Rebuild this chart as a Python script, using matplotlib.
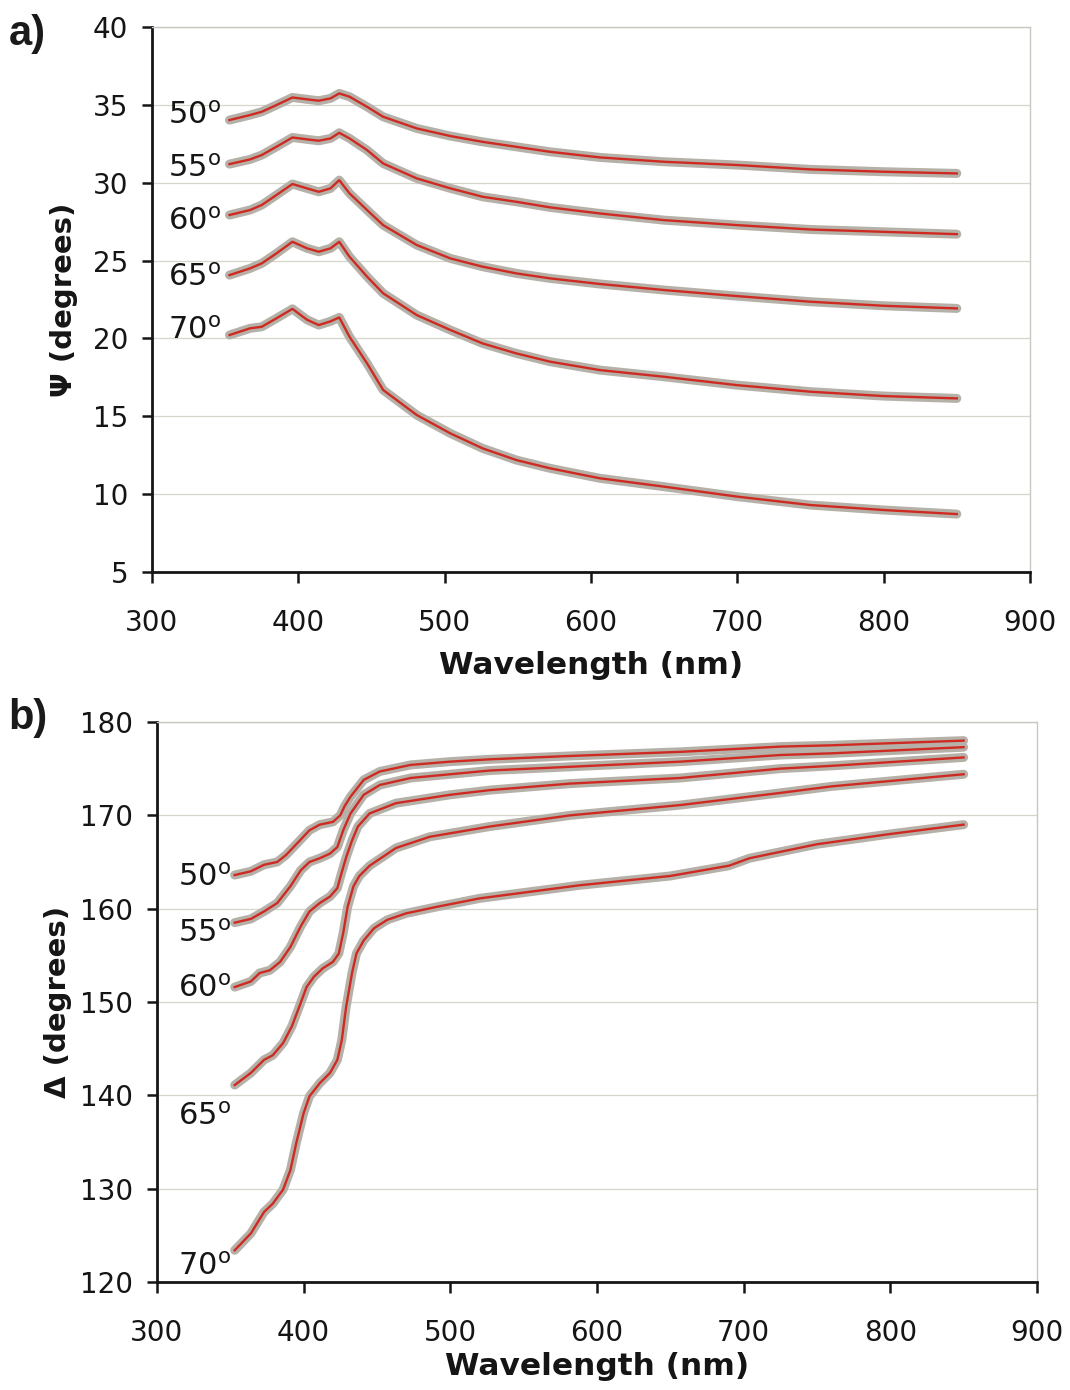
import matplotlib
matplotlib.use("Agg")
import matplotlib.pyplot as plt

# ---------------- data ----------------
angles = ["50", "55", "60", "65", "70"]

# Panel a) Psi vs wavelength (shared wavelength grid)
wl_psi = [353, 367, 375, 385, 396, 406, 414, 422, 428, 435, 447, 458, 481, 504,
          526, 549, 572, 606, 650, 700, 750, 800, 850]
psi_50 = [34.03, 34.35, 34.56, 34.99, 35.48, 35.36, 35.27, 35.42, 35.74, 35.53, 34.88, 34.24,
          33.49, 33.0, 32.63, 32.31, 31.99, 31.63, 31.35, 31.14, 30.86, 30.71, 30.6]
psi_55 = [31.2, 31.5, 31.78, 32.31, 32.91, 32.79, 32.7, 32.85, 33.21, 32.85, 32.1, 31.24,
          30.28, 29.64, 29.1, 28.78, 28.42, 28.03, 27.6, 27.28, 27.0, 26.85, 26.7]
psi_60 = [27.93, 28.25, 28.57, 29.21, 29.92, 29.64, 29.42, 29.64, 30.17, 29.32, 28.25, 27.28,
          26.0, 25.14, 24.61, 24.18, 23.86, 23.5, 23.11, 22.72, 22.36, 22.1, 21.93]
psi_65 = [24.07, 24.5, 24.82, 25.46, 26.21, 25.79, 25.57, 25.79, 26.21, 25.25, 23.97, 22.9,
          21.5, 20.54, 19.68, 19.04, 18.51, 17.97, 17.54, 17.0, 16.58, 16.3, 16.15]
psi_70 = [20.22, 20.65, 20.75, 21.29, 21.9, 21.2, 20.86, 21.1, 21.35, 20.11, 18.4, 16.69,
          15.08, 13.9, 12.94, 12.19, 11.66, 11.02, 10.48, 9.84, 9.3, 8.98, 8.72]

# Panel b) Delta vs wavelength (own wavelength list per angle)
wl_d50 = [353, 364, 373, 382, 388, 398, 404, 411, 420, 425, 428, 432, 441, 452, 473, 500,
          527, 582, 657, 725, 760, 850]
delta_50 = [163.6, 164.0, 164.7, 165.0, 165.75, 167.4, 168.4, 169.0, 169.3, 170.0, 171.0,
            172.0, 173.8, 174.7, 175.4, 175.75, 176.0, 176.36, 176.8, 177.36, 177.5, 178.0]
wl_d55 = [353, 364, 373, 382, 391, 398, 404, 411, 418, 423, 427, 432, 441, 452, 473, 500,
          527, 582, 657, 725, 760, 850]
delta_55 = [158.5, 158.9, 159.7, 160.6, 162.4, 164.1, 165.0, 165.4, 165.9, 166.6, 168.4,
            170.2, 172.2, 173.25, 174.0, 174.4, 174.8, 175.2, 175.75, 176.46, 176.64, 177.3]
wl_d60 = [353, 364, 370, 377, 384, 391, 398, 404, 411, 418, 423, 426, 429, 433, 437, 445,
          463, 500, 527, 582, 657, 725, 760, 850]
delta_60 = [151.6, 152.2, 153.1, 153.4, 154.3, 155.9, 158.1, 159.7, 160.6, 161.3, 162.2,
            163.9, 165.5, 167.3, 168.8, 170.2, 171.3, 172.2, 172.7, 173.4, 174.0, 175.0,
            175.3, 176.2]
wl_d65 = [353, 364, 373, 379, 386, 392, 398, 402, 407, 413, 420, 424, 427, 430, 434, 438,
          445, 463, 486, 527, 582, 657, 725, 760, 850]
delta_65 = [141.1, 142.4, 143.8, 144.3, 145.6, 147.4, 149.9, 151.6, 152.7, 153.6, 154.3,
            155.2, 157.4, 160.2, 162.4, 163.5, 164.6, 166.5, 167.7, 168.8, 170.0, 171.1,
            172.4, 173.1, 174.4]
wl_d70 = [353, 364, 373, 379, 386, 391, 395, 400, 404, 411, 418, 423, 426, 429, 433, 436,
          441, 448, 457, 470, 491, 520, 588, 650, 690, 704, 750, 800, 850]
delta_70 = [123.4, 125.2, 127.5, 128.4, 129.9, 132.0, 134.9, 138.1, 139.9, 141.3, 142.4,
            143.8, 145.9, 149.5, 153.1, 155.2, 156.6, 157.9, 158.8, 159.5, 160.2, 161.1,
            162.5, 163.5, 164.6, 165.4, 166.9, 168.0, 169.0]

# label anchor positions (data coords)
psi_label_x = 311
psi_label_y = [34.3, 30.95, 27.5, 23.95, 20.5]
delta_label_x = 314
delta_label_y = [163.3, 157.4, 151.5, 137.7, 121.7]

psi_series = [psi_50, psi_55, psi_60, psi_65, psi_70]
delta_wl = [wl_d50, wl_d55, wl_d60, wl_d65, wl_d70]
delta_series = [delta_50, delta_55, delta_60, delta_65, delta_70]

# ---------------- style ----------------
plt.rcParams['font.family'] = ['DejaVu Sans']
GRAY = '#b5b1a8'
RED = '#cf2a22'
GRID = '#d6d6cc'
INK = '#151515'

fig = plt.figure(figsize=(10.7, 13.9), dpi=100)
ax1 = fig.add_axes([0.142, 0.5885, 0.8206, 0.392])
ax2 = fig.add_axes([0.1467, 0.0777, 0.8224, 0.4029])


def style(ax, yticks, ylim):
    ax.set_xlim(300, 900)
    ax.set_ylim(*ylim)
    ax.set_xticks(range(300, 901, 100))
    ax.set_yticks(yticks)
    ax.yaxis.grid(True, color=GRID, lw=0.9)
    ax.set_axisbelow(True)
    for s in ['top', 'right']:
        ax.spines[s].set_color('#c8c8c0')
        ax.spines[s].set_linewidth(1.0)
    for s in ['left', 'bottom']:
        ax.spines[s].set_color(INK)
        ax.spines[s].set_linewidth(2.0)
    ax.tick_params(axis='x', direction='out', length=8, width=1.8, pad=19,
                   labelsize=20, colors=INK)
    ax.tick_params(axis='y', direction='out', length=7, width=1.8, pad=10,
                   labelsize=20, colors=INK)
    ax.tick_params(top=False, right=False)


style(ax1, range(5, 41, 5), (5, 40))
style(ax2, range(120, 181, 10), (120, 180))

for ys in psi_series:
    ax1.plot(wl_psi, ys, color=GRAY, lw=6.5, solid_capstyle='round', zorder=2)
    ax1.plot(wl_psi, ys, color=RED, lw=1.7, zorder=3)
for xs, ys in zip(delta_wl, delta_series):
    ax2.plot(xs, ys, color=GRAY, lw=6.5, solid_capstyle='round', zorder=2)
    ax2.plot(xs, ys, color=RED, lw=1.7, zorder=3)

for a, y in zip(angles, psi_label_y):
    ax1.text(psi_label_x, y, a + r'$^{\mathrm{o}}$', fontsize=22, ha='left',
             va='center', color=INK, zorder=4)
for a, y in zip(angles, delta_label_y):
    ax2.text(delta_label_x, y, a + r'$^{\mathrm{o}}$', fontsize=22, ha='left',
             va='center', color=INK, zorder=4)

ax1.set_xlabel('Wavelength (nm)', fontsize=22.5, fontweight='bold', color=INK)
ax2.set_xlabel('Wavelength (nm)', fontsize=22.5, fontweight='bold', color=INK)
ax1.set_ylabel('Ψ (degrees)', fontsize=21, fontweight='bold', color=INK)
ax2.set_ylabel('Δ (degrees)', fontsize=21, fontweight='bold', color=INK)
ax1.xaxis.set_label_coords(0.5, -0.145)
ax2.xaxis.set_label_coords(0.5, -0.125)
ax1.yaxis.set_label_coords(-0.084, 0.5)
ax2.yaxis.set_label_coords(-0.097, 0.5)

fig.text(0.008, 0.990, 'a)', fontsize=30, fontweight='bold', va='top', ha='left',
         family='Liberation Sans', color='#1a1a1a')
fig.text(0.008, 0.498, 'b)', fontsize=30, fontweight='bold', va='top', ha='left',
         family='Liberation Sans', color='#1a1a1a')

fig.savefig('out.png', dpi=100, facecolor='white')
